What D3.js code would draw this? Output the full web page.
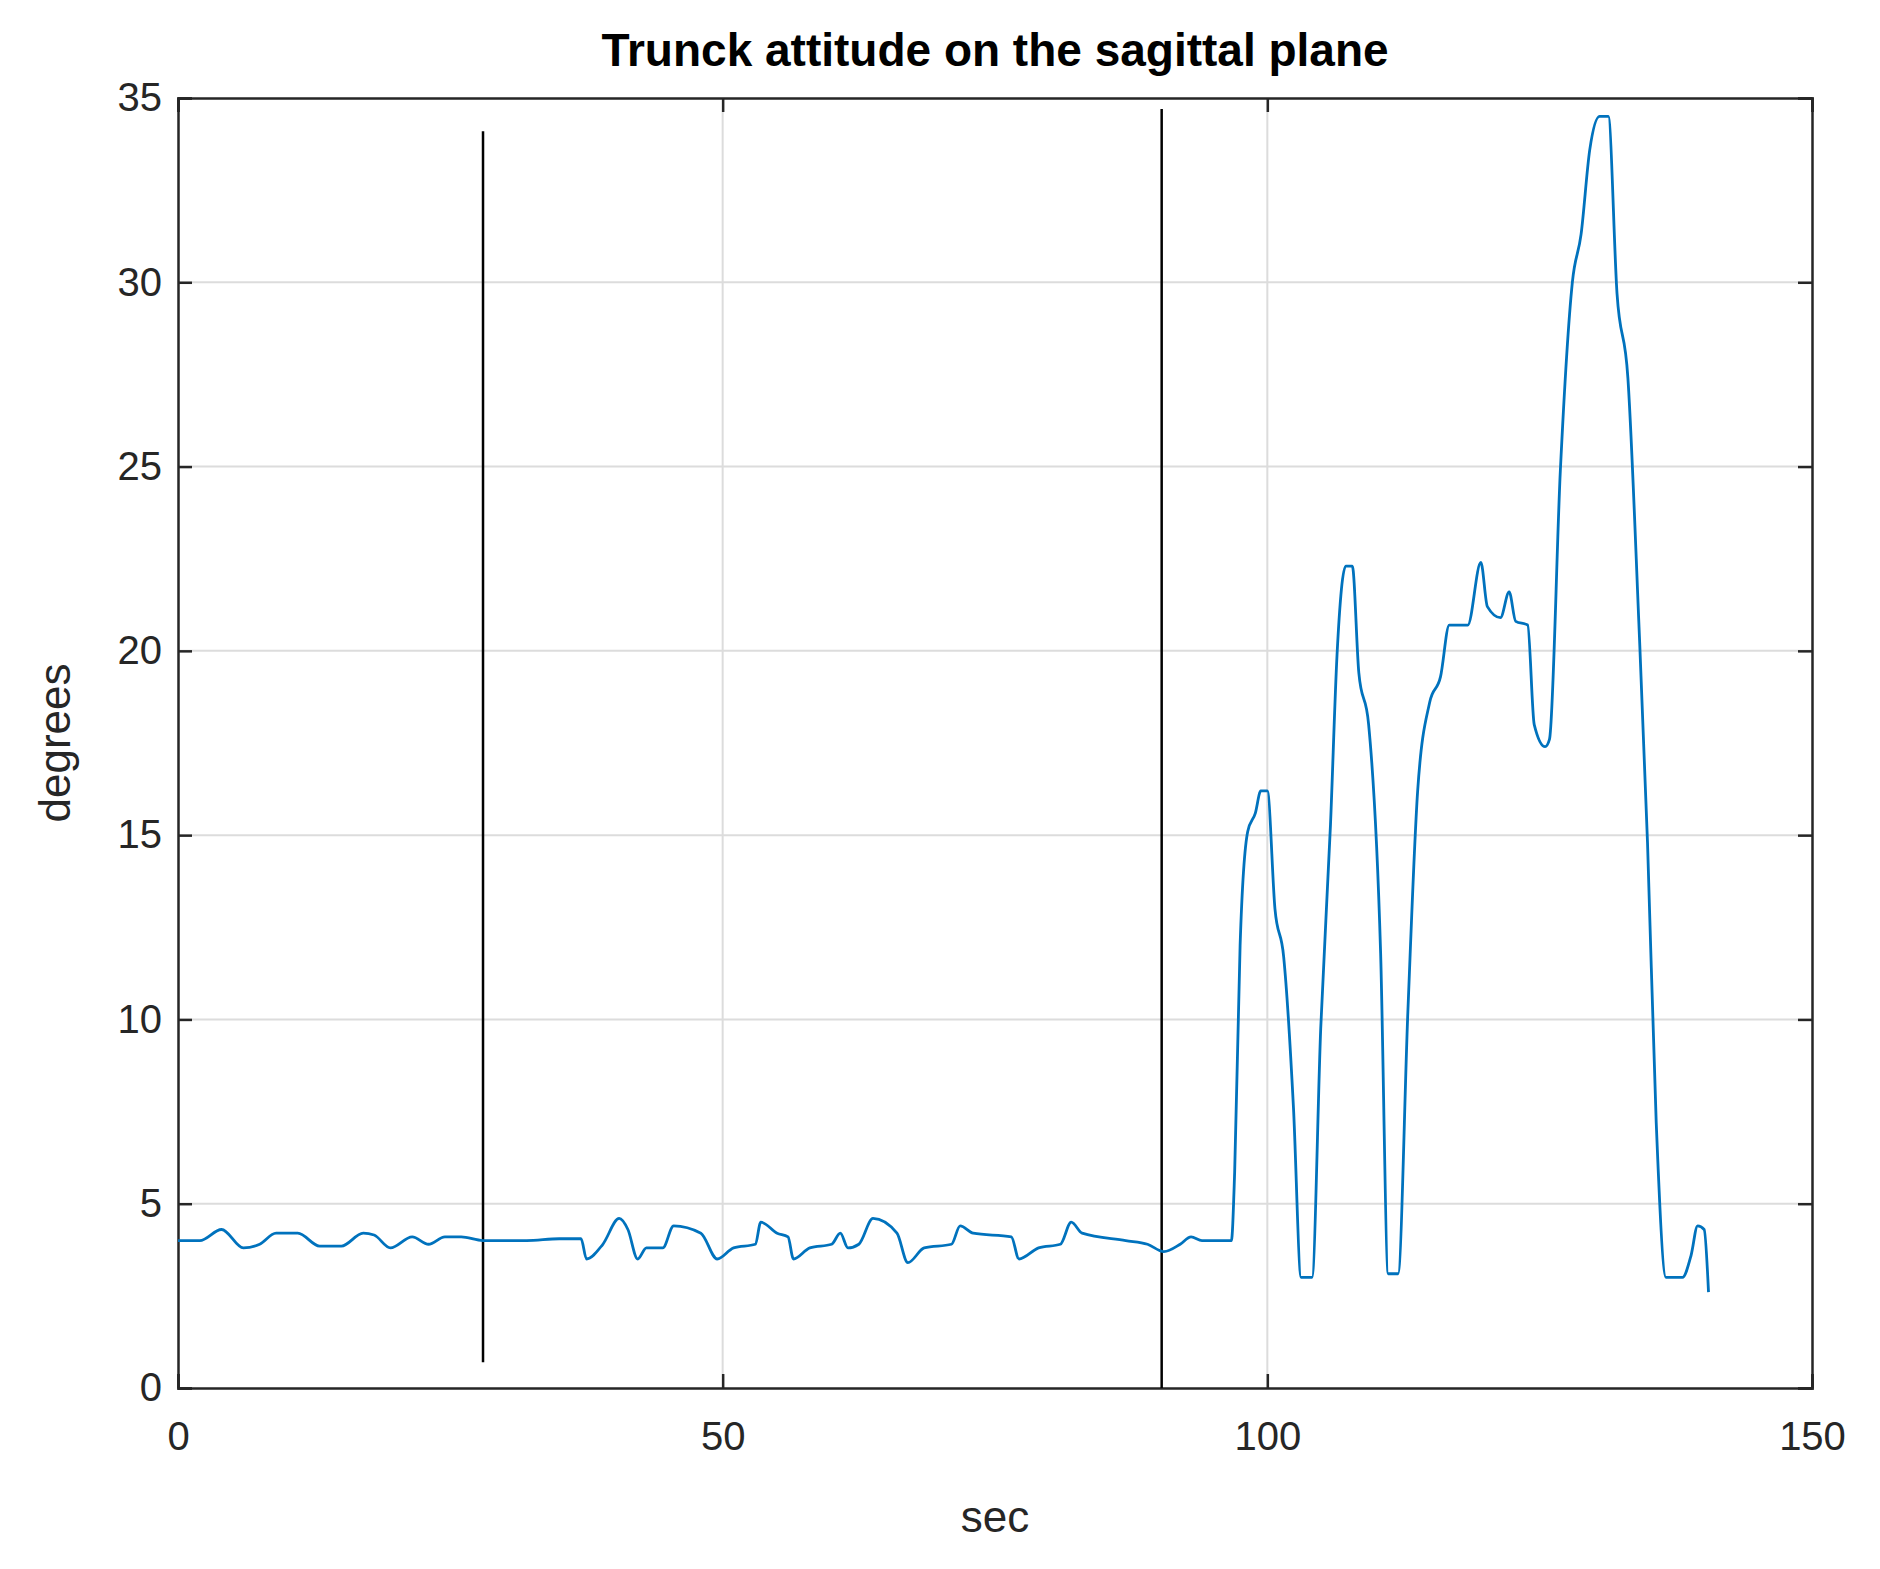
<!DOCTYPE html>
<html><head><meta charset="utf-8">
<script src="https://cdn.jsdelivr.net/npm/d3@7"></script>
<style>body{margin:0;background:#fff}</style>
</head><body>
<svg id="chart" width="1880" height="1569"></svg>
<script>
const xTicks = [0, 50, 100, 150];
const yTicks = [0, 5, 10, 15, 20, 25, 30, 35];
const markers = [{t: 28, y0: 0.7, y1: 34.1}, {t: 90.3, y0: 0, y1: 34.7}];
// [sec, degrees]
const series = [
  [0,4.0],[2,4.0],[4,4.3],[6,3.8],[7.5,3.9],[9,4.2],[11,4.2],[13,3.85],[15,3.85],[17,4.2],[18,4.15],[19.5,3.8],[21.5,4.1],[23,3.9],[24.5,4.1],[26,4.1],[28,4.0],
  [32,4.0],[35,4.05],[37,4.05],[37.5,3.5],[39,3.9],[40.5,4.6],[41.3,4.3],[42.2,3.5],[43,3.8],[44.5,3.8],[45.5,4.4],[48,4.2],[49.5,3.5],[51,3.8],[53,3.9],
  [53.5,4.5],[55,4.2],[56,4.1],[56.5,3.5],[58,3.8],[60,3.9],[60.8,4.2],[61.5,3.8],[62.5,3.9],[63.8,4.6],[66,4.2],[67,3.4],[68.5,3.8],[71,3.9],[71.8,4.4],
  [73,4.2],[76.5,4.1],[77.2,3.5],[79,3.8],[81,3.9],[82,4.5],[83,4.2],[87,4.0],[89,3.9],[90.5,3.7],[92,3.9],[93,4.1],[94,4.0],[96.7,4.0],
  [97.0,5.85],[97.5,12],[98.2,15.1],[98.9,15.6],[99.4,16.2],[100,16.2],[100.7,13],[101.5,11.7],[102.4,7.6],[103.1,3.0],[104.1,3.0],[104.9,9.75],
  [105.8,15.3],[106.4,19.9],[107.2,22.3],[107.8,22.3],[108.4,19.4],[109.3,18],[110.4,11.8],[111.1,3.1],[112,3.1],[112.9,10.2],[113.8,16.2],[114.9,18.6],
  [115.9,19.3],[116.7,20.7],[118.4,20.7],[119.6,22.4],[120.2,21.2],[121.4,20.9],[122.2,21.6],[122.8,20.8],[123.9,20.7],[124.5,18],[125.5,17.4],[125.9,17.6],
  [126.9,24.9],[128,30],[128.8,31.3],[129.6,33.6],[130.5,34.5],[131.3,34.5],[132.1,29.7],[133.1,27.4],[134.1,20.8],[134.9,14.8],[135.7,7.2],[136.6,3.0],
  [138.1,3.0],[138.9,3.6],[139.5,4.4],[140.1,4.3],[140.5,2.6]
];

const svg = d3.select("#chart");
const m = {l: 178, r: 1812, t: 98, b: 1388};
const x = d3.scaleLinear().domain([0, 150]).range([m.l, m.r]);
const y = d3.scaleLinear().domain([0, 35]).range([m.b, m.t]);
const font = "Liberation Sans, Arial, sans-serif";

// grid
svg.append("g").selectAll("line").data(xTicks.slice(1, -1)).enter().append("line")
    .attr("x1", d => x(d)).attr("x2", d => x(d)).attr("y1", m.t).attr("y2", m.b)
    .attr("stroke", "#dcdcdc").attr("stroke-width", 2);
svg.append("g").selectAll("line").data(yTicks.slice(1, -1)).enter().append("line")
    .attr("x1", m.l).attr("x2", m.r).attr("y1", d => y(d)).attr("y2", d => y(d))
    .attr("stroke", "#dcdcdc").attr("stroke-width", 2);

// axes
svg.append("g").attr("transform", `translate(0,${m.b})`)
    .call(d3.axisBottom(x).tickValues(xTicks).tickSize(-14).tickPadding(34));
svg.append("g").attr("transform", `translate(${m.l},0)`)
    .call(d3.axisLeft(y).tickValues(yTicks).tickSize(-14).tickPadding(16));
svg.append("g").attr("transform", `translate(0,${m.t})`)
    .call(d3.axisTop(x).tickValues(xTicks).tickSize(-14).tickFormat(""));
svg.append("g").attr("transform", `translate(${m.r},0)`)
    .call(d3.axisRight(y).tickValues(yTicks).tickSize(-14).tickFormat(""));
svg.selectAll(".domain, .tick line").attr("stroke", "#262626").attr("stroke-width", 2.5);
svg.selectAll(".tick text").attr("font-family", font).attr("font-size", 40).attr("fill", "#262626");

// markers
svg.append("g").selectAll("line").data(markers).enter().append("line")
    .attr("x1", d => x(d.t)).attr("x2", d => x(d.t)).attr("y1", d => y(d.y0)).attr("y2", d => y(d.y1))
    .attr("stroke", "#000").attr("stroke-width", 2.5);

// series
const line = d3.line().x(d => x(d[0])).y(d => y(d[1])).curve(d3.curveMonotoneX);
svg.append("path").datum(series).attr("d", line)
    .attr("fill", "none").attr("stroke", "#0072bd").attr("stroke-width", 2.8);

// labels
svg.append("text").attr("x", (m.l + m.r) / 2).attr("y", 66).attr("text-anchor", "middle")
    .attr("font-family", font).attr("font-weight", "bold").attr("font-size", 46).attr("fill", "#000")
    .text("Trunck attitude on the sagittal plane");
svg.append("text").attr("x", (m.l + m.r) / 2).attr("y", 1532).attr("text-anchor", "middle")
    .attr("font-family", font).attr("font-size", 44).attr("fill", "#262626").text("sec");
svg.append("text").attr("transform", `translate(70,${(m.t + m.b) / 2}) rotate(-90)`).attr("text-anchor", "middle")
    .attr("font-family", font).attr("font-size", 44).attr("fill", "#262626").text("degrees");
</script>
</body></html>
